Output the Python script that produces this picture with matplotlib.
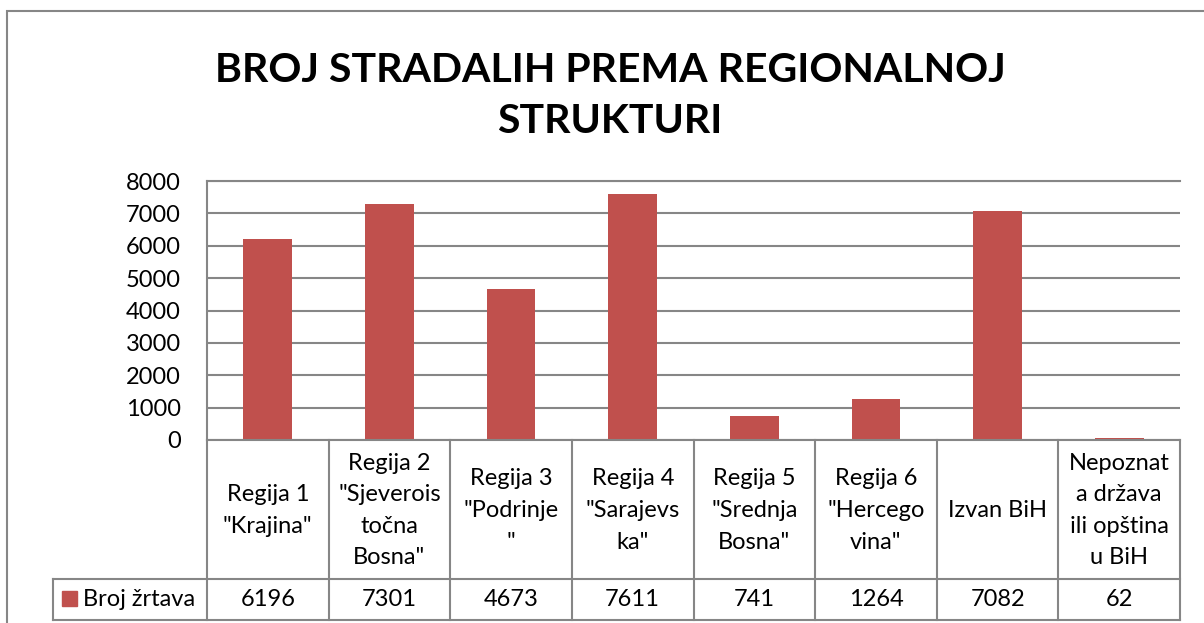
import matplotlib
matplotlib.use("Agg")
import matplotlib.pyplot as plt
from matplotlib.transforms import blended_transform_factory
from matplotlib.patches import Rectangle

plt.rcParams['font.family'] = ['Lato', 'DejaVu Sans']

categories = ['Regija 1\n"Krajina"',
              'Regija 2\n"Sjeverois\ntočna\nBosna"',
              'Regija 3\n"Podrinje\n"',
              'Regija 4\n"Sarajevs\nka"',
              'Regija 5\n"Srednja\nBosna"',
              'Regija 6\n"Hercego\nvina"',
              'Izvan BiH',
              'Nepoznat\na država\nili opština\nu BiH']
values = [6196, 7301, 4673, 7611, 741, 1264, 7082, 62]
series_name = 'Broj žrtava'
yticks = [0, 1000, 2000, 3000, 4000, 5000, 6000, 7000, 8000]
title = 'BROJ STRADALIH PREMA REGIONALNOJ\nSTRUKTURI'

W, H = 1204, 623
bar_color = '#C0504D'
grid_color = '#868686'

fig = plt.figure(figsize=(W / 100, H / 100), dpi=100)

def fy(py):
    return 1 - py / H

# plot area
x0, x1, ytop, y0 = 207, 1180, 181, 440
ax = fig.add_axes([x0 / W, fy(y0), (x1 - x0) / W, (y0 - ytop) / H])
pos = list(range(len(values)))
ax.bar(pos, values, width=0.4, color=bar_color, zorder=3)
ax.set_xlim(-0.5, len(values) - 0.5)
ax.set_ylim(0, 8000)
ax.set_yticks(yticks)
ax.set_yticklabels([str(t) for t in yticks], fontsize=17)
ax.set_xticks([])
ax.tick_params(axis='y', length=0, pad=19)
ax.grid(axis='y', color=grid_color, linewidth=1.5, zorder=0)
for s in ['right', 'bottom']:
    ax.spines[s].set_visible(False)
for s in ['left', 'top']:
    ax.spines[s].set_color(grid_color)
    ax.spines[s].set_linewidth(1.5)

# outer chart border
fig.patches.append(Rectangle((7 / W, fy(700)), 1300 / W, (700 - 11) / H,
                             transform=fig.transFigure, fill=False,
                             edgecolor=grid_color, linewidth=1.5))

# data table under the plot
tr = blended_transform_factory(ax.transData, fig.transFigure)
row1, row2 = 579, 620
lw = 1.5
fig.add_artist(plt.Line2D([x0 / W, x1 / W], [fy(y0), fy(y0)], transform=fig.transFigure, color=grid_color, lw=lw))
fig.add_artist(plt.Line2D([53 / W, x1 / W], [fy(row1), fy(row1)], transform=fig.transFigure, color=grid_color, lw=lw))
fig.add_artist(plt.Line2D([53 / W, x1 / W], [fy(row2), fy(row2)], transform=fig.transFigure, color=grid_color, lw=lw))
fig.add_artist(plt.Line2D([53 / W, 53 / W], [fy(row1), fy(row2)], transform=fig.transFigure, color=grid_color, lw=lw))
for i in range(len(values) + 1):
    fig.add_artist(plt.Line2D([i - 0.5, i - 0.5], [fy(y0), fy(row2)], transform=tr, color=grid_color, lw=lw))

for i, (c, v) in enumerate(zip(categories, values)):
    fig.text(i, fy((y0 + row1) / 2 + 1), c, transform=tr, ha='center', va='center',
             fontsize=17, linespacing=1.62)
    fig.text(i, fy((row1 + row2) / 2), str(v), transform=tr, ha='center', va='center',
             fontsize=17)

fig.patches.append(Rectangle((62 / W, fy(606)), 15 / W, 15 / H, transform=fig.transFigure,
                             color=bar_color))
fig.text(83 / W, fy((row1 + row2) / 2), series_name, ha='left', va='center', fontsize=17)

fig.text(610 / W, fy(96), title, ha='center', va='center', fontsize=29.5,
         fontweight='bold', linespacing=1.45)

fig.savefig('out.png', dpi=100)
